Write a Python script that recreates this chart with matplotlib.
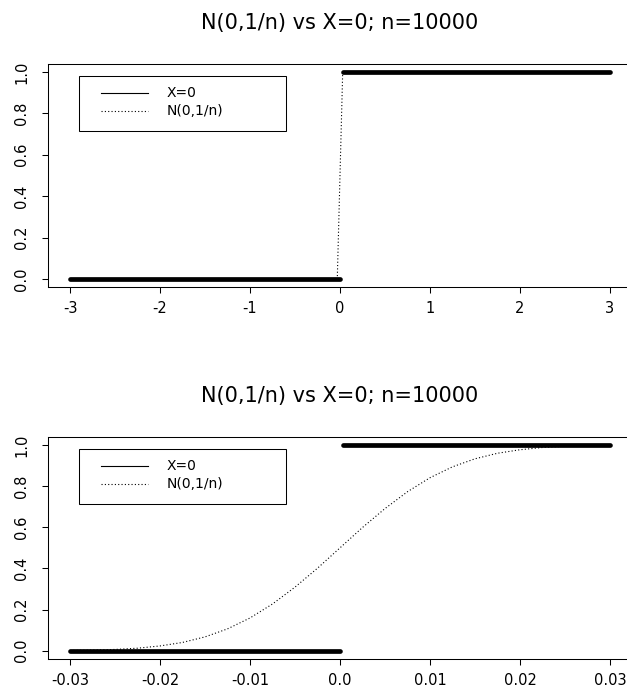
import matplotlib
matplotlib.use('Agg')
import matplotlib.pyplot as plt
from matplotlib.patches import Rectangle

TITLE = 'N(0,1/n) vs X=0; n=10000'
LEGEND_LABELS = ['X=0', 'N(0,1/n)']
Y_TICKS = [0.0, 0.2, 0.4, 0.6, 0.8, 1.0]
Y_TICKLABELS = ['0.0', '0.2', '0.4', '0.6', '0.8', '1.0']

# top panel, x over [-3, 3]
top_xticks = [-3, -2, -1, 0, 1, 2, 3]
top_xticklabels = ['-3', '-2', '-1', '0', '1', '2', '3']
top_point_lo_x = [-3.0, 0.0]
top_point_lo_y = [0.0, 0.0]
top_point_hi_x = [0.03, 3.0]
top_point_hi_y = [1.0, 1.0]
top_norm_x = [-3.0, -0.03, 0.0, 0.03, 3.0]
top_norm_y = [0.0, 0.001, 0.5, 0.999, 1.0]

# bottom panel, x over [-0.03, 0.03]
bot_xticks = [-0.03, -0.02, -0.01, 0.0, 0.01, 0.02, 0.03]
bot_xticklabels = ['-0.03', '-0.02', '-0.01', '0.0', '0.01', '0.02', '0.03']
bot_point_lo_x = [-0.03, 0.0]
bot_point_lo_y = [0.0, 0.0]
bot_point_hi_x = [0.0003, 0.03]
bot_point_hi_y = [1.0, 1.0]
bot_norm_x = [-0.03, -0.0275, -0.025, -0.0225, -0.02, -0.0175, -0.015, -0.0125,
              -0.01, -0.0075, -0.005, -0.0025, 0.0, 0.0025, 0.005, 0.0075,
              0.01, 0.0125, 0.015, 0.0175, 0.02, 0.0225, 0.025, 0.0275, 0.03]
bot_norm_y = [0.001, 0.003, 0.006, 0.012, 0.023, 0.040, 0.067, 0.106,
              0.159, 0.227, 0.309, 0.401, 0.500, 0.599, 0.691, 0.773,
              0.841, 0.894, 0.933, 0.960, 0.977, 0.988, 0.994, 0.997, 0.999]

DOTTED = (0, (1, 2))


def draw_legend(ax):
    # R-style legend box, placed in axes fraction
    ax.add_patch(Rectangle((0.0525, 0.699), 0.355, 0.246, transform=ax.transAxes,
                           fill=False, edgecolor='black', linewidth=0.75))
    for label, ls, y in zip(LEGEND_LABELS, ['-', DOTTED], [0.870, 0.787]):
        ax.plot([0.0902, 0.1708], [y, y], transform=ax.transAxes, color='black',
                linewidth=0.8, linestyle=ls)
        ax.text(0.2034, y, label, transform=ax.transAxes, va='center', ha='left',
                fontsize=10)


def panel(ax, lo_x, lo_y, hi_x, hi_y, norm_x, norm_y, xticks, xticklabels, xlim):
    ax.plot(norm_x, norm_y, color='black', linewidth=0.8, linestyle=DOTTED)
    for xs, ys in [(lo_x, lo_y), (hi_x, hi_y)]:
        ax.plot(xs, ys, color='black', linewidth=3.4, solid_capstyle='round')

    ax.set_xlim(xlim)
    ax.set_ylim(-0.04, 1.04)
    ax.set_xticks(xticks)
    ax.set_xticklabels(xticklabels)
    ax.set_yticks(Y_TICKS)
    ax.set_yticklabels(Y_TICKLABELS, rotation=90, va='center')

    for sp in ax.spines.values():
        sp.set_linewidth(0.75)
    ax.tick_params('both', direction='out', length=4, width=0.75, labelsize=10.5)
    ax.tick_params('x', pad=6)
    ax.tick_params('y', pad=10)

    ax.set_title(TITLE, fontsize=15, pad=24.8)
    draw_legend(ax)


fig = plt.figure(figsize=(6.27, 6.93), dpi=100)
ax_top = fig.add_axes([0.0772, 0.5854, 0.9301, 0.3227])
ax_bot = fig.add_axes([0.0772, 0.0492, 0.9301, 0.3205])

panel(ax_top, top_point_lo_x, top_point_lo_y, top_point_hi_x, top_point_hi_y,
      top_norm_x, top_norm_y, top_xticks, top_xticklabels, (-3.24, 3.24))
panel(ax_bot, bot_point_lo_x, bot_point_lo_y, bot_point_hi_x, bot_point_hi_y,
      bot_norm_x, bot_norm_y, bot_xticks, bot_xticklabels, (-0.0324, 0.0324))

fig.savefig('out.png', dpi=100)
